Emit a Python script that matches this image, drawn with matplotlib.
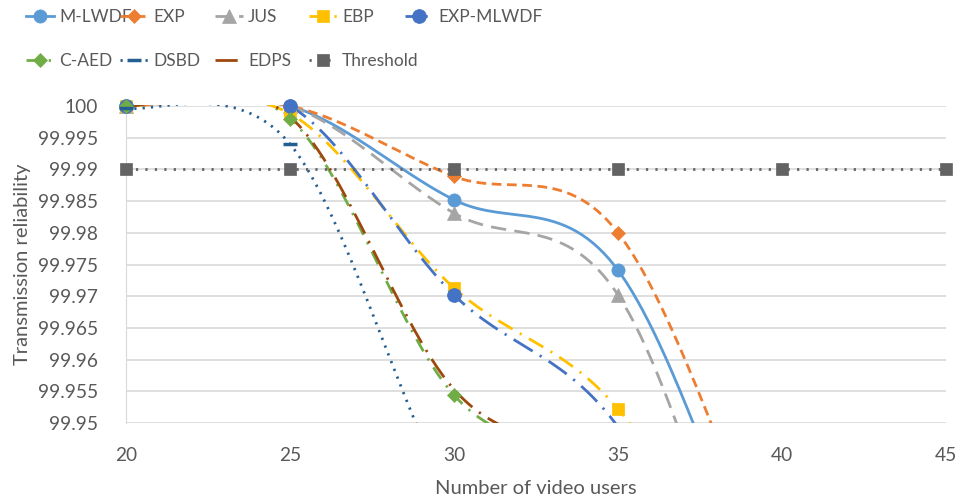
import numpy as np
import matplotlib
matplotlib.use("Agg")
import matplotlib.pyplot as plt
from matplotlib.lines import Line2D
from matplotlib.patches import Rectangle

plt.rcParams['font.family'] = ['Lato', 'DejaVu Sans']

# data (values below 99.95 are off the axis, guessed)
users = [20, 25, 30, 35, 40, 45]
m_lwdf = [100, 100, 99.9852, 99.9741, 99.915, 99.86]
exp_ = [100, 100, 99.9889, 99.9800, 99.922, 99.86]
jus = [100, 100, 99.9831, 99.9702, 99.905, 99.86]
ebp = [100, 99.9988, 99.9713, 99.9522, 99.91, 99.86]
exp_mlwdf = [100, 100, 99.9702, 99.9494, 99.90, 99.86]
c_aed = [100, 99.9980, 99.9544, 99.940, 99.90, 99.86]
dsbd = [99.9997, 99.9940, 99.937, 99.90, 99.88, 99.86]
edps = [100, 99.9983, 99.9553, 99.940, 99.90, 99.86]
threshold = [99.99, 99.99, 99.99, 99.99, 99.99, 99.99]

yticks = [99.95, 99.955, 99.96, 99.965, 99.97, 99.975, 99.98, 99.985, 99.99, 99.995, 100]
ylabels = ["99.95", "99.955", "99.96", "99.965", "99.97", "99.975", "99.98", "99.985", "99.99", "99.995", "100"]


def excel_smooth(x, y, n=60):
    # catmull-rom style bezier, roughly what excel "smoothed line" does
    x = np.asarray(x, float)
    y = np.asarray(y, float)
    px = np.concatenate([[x[0]], x, [x[-1]]])
    py = np.concatenate([[y[0]], y, [y[-1]]])
    xs, ys = [], []
    t = np.linspace(0, 1, n)
    for i in range(1, len(px) - 2):
        b0 = np.array([px[i], py[i]])
        b3 = np.array([px[i + 1], py[i + 1]])
        b1 = b0 + (np.array([px[i + 1], py[i + 1]]) - np.array([px[i - 1], py[i - 1]])) / 6
        b2 = b3 - (np.array([px[i + 2], py[i + 2]]) - np.array([px[i], py[i]])) / 6
        pts = ((1 - t) ** 3)[:, None] * b0 + (3 * t * (1 - t) ** 2)[:, None] * b1 \
            + (3 * t ** 2 * (1 - t))[:, None] * b2 + (t ** 3)[:, None] * b3
        xs.append(pts[:, 0])
        ys.append(pts[:, 1])
    return np.concatenate(xs), np.concatenate(ys)


series = [
    ("M-LWDF", m_lwdf, "#5B9BD5", "-", "o", 9.5),
    ("EXP", exp_, "#ED7D31", (0, (3.5, 2)), "D", 7.5),
    ("JUS", jus, "#A5A5A5", (0, (5.5, 3)), "^", 9.5),
    ("EBP", ebp, "#FFC000", (0, (6, 3, 0.8, 3)), "s", 9),
    ("EXP-MLWDF", exp_mlwdf, "#4472C4", (0, (8, 3, 0.8, 3)), "o", 10),
    ("C-AED", c_aed, "#70AD47", (0, (5, 3, 0.8, 3)), "D", 7.5),
    ("DSBD", dsbd, "#255E91", (0, (0.8, 2.2)), "_", 10),
    ("EDPS", edps, "#9E480E", (0, (8, 3, 0.8, 3)), None, 8),
    ("Threshold", threshold, "#636363", (0, (0.8, 2.6)), "s", 9),
]

fig = plt.figure(figsize=(9.62, 5.03), dpi=100)
ax = fig.add_axes([126 / 962, 1 - 423 / 503, 820 / 962, 317 / 503])

# lines on 100 keep their full width, overshoot above and drops below are cut
clip_rect = Rectangle((-0.01, 0), 1.02, 1.004, transform=ax.transAxes,
                      facecolor="none", edgecolor="none")
ax.add_patch(clip_rect)

handles = []
for name, vals, col, ls, mk, ms in series:
    sx, sy = excel_smooth(users, vals)
    ln, = ax.plot(sx, sy, color=col, linestyle=ls, lw=2.0, zorder=3)
    ln.set_clip_path(clip_rect)
    vx = [u for u, v in zip(users, vals) if 99.9495 <= v <= 100.0001]
    vy = [v for v in vals if 99.9495 <= v <= 100.0001]
    if mk:
        ax.plot(vx, vy, linestyle="none", marker=mk, color=col, ms=ms,
                mew=2.5 if mk == "_" else 0.5, clip_on=False, zorder=4)
    handles.append(Line2D([0], [0], color=col, linestyle=ls, lw=2.0,
                          marker=mk, ms=ms, mew=2.5 if mk == "_" else 0.5))

ax.set_xlim(20, 45)
ax.set_ylim(99.95, 100)
ax.set_xticks([20, 25, 30, 35, 40, 45])
ax.set_yticks(yticks)
ax.set_yticklabels(ylabels)
ax.grid(axis="y", color="#D9D9D9", lw=1.2)
for s in ["top", "right", "bottom"]:
    ax.spines[s].set_visible(False)
ax.spines["left"].set_color("#D9D9D9")
ax.tick_params(length=0, labelsize=13.8, colors="#595959")
ax.tick_params(axis="y", pad=20)
ax.tick_params(axis="x", pad=17)
ax.set_xlabel("Number of video users", fontsize=14.5, color="#595959", labelpad=12)
ax.set_ylabel("Transmission reliability", fontsize=14.5, color="#595959", labelpad=5)

# legend laid out like excel: fixed column step
col_x = [26, 120, 215, 309, 405]
row_y = [17, 61]
for i, (h, s) in enumerate(zip(handles, series)):
    r, c = divmod(i, 5)
    fig.legend([h], [s[0]], loc="center left",
               bbox_to_anchor=(col_x[c] / 962, 1 - row_y[r] / 503),
               frameon=False, fontsize=12.5, handlelength=1.6, handletextpad=0.3,
               borderpad=0, borderaxespad=0, labelcolor="#595959")

fig.savefig("out.png", dpi=100)
